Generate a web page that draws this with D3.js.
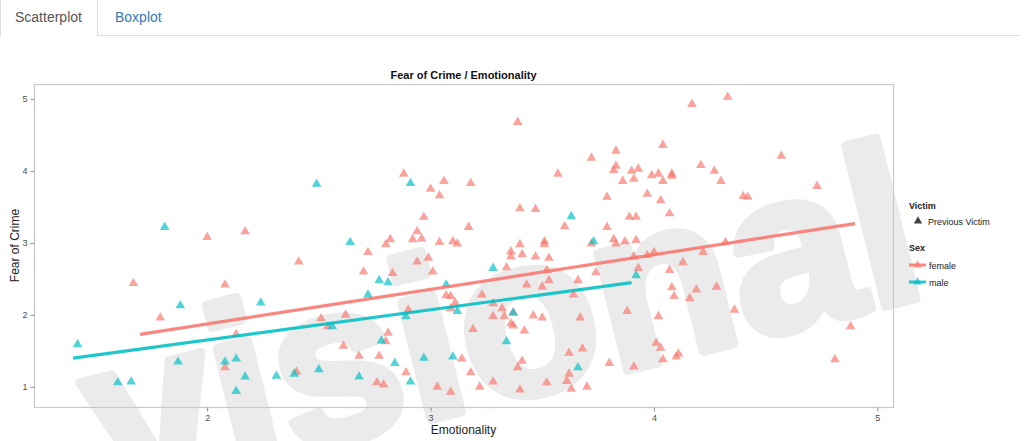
<!DOCTYPE html>
<html>
<head>
<meta charset="utf-8">
<script src="https://cdn.jsdelivr.net/npm/d3@7"></script>
<style>
  html, body { margin: 0; padding: 0; background: #fff; }
  svg { display: block; font-family: "Liberation Sans", Arial, Helvetica, sans-serif; }
</style>
</head>
<body>
<svg id="chart" width="1028" height="441"></svg>
<script>
// Emotionality (x) and Fear of Crime (y) for previous victims, split by sex
const femaleEmotionality = [
  1.67, 1.79, 2.00, 2.08, 2.17, 2.13, 2.08, 2.40, 2.41, 2.51, 2.54,
  3.39, 3.72, 3.57, 2.88, 3.06, 3.18, 3.00, 3.04, 3.79, 3.40, 3.47, 2.97, 3.60, 3.79, 3.17,
  2.94, 2.92, 2.96, 2.82, 2.80, 2.72, 3.04, 3.10, 3.12, 3.40, 3.51, 3.51, 3.72, 3.36, 3.41,
  3.47, 3.36, 3.53, 2.94, 2.99, 3.01, 2.70, 2.83, 3.34, 3.52, 3.74, 3.53, 3.66, 3.43, 3.50,
  3.07, 3.09, 3.23, 3.64, 3.11, 3.28, 3.32, 3.09, 2.90, 2.62, 3.28, 3.33, 3.37, 3.46, 3.50,
  3.67, 3.36, 3.37, 3.19, 3.42, 2.81, 2.80, 2.61, 2.68, 2.77, 3.14, 3.41, 3.62, 3.68, 3.80,
  3.39, 2.89, 3.18, 3.62, 2.76, 2.79, 3.28, 3.52, 3.61, 3.03, 3.22, 3.63, 3.70, 3.09, 3.40,
  4.33, 4.17, 3.83, 4.04, 4.57, 3.83, 3.82, 3.90, 3.93, 3.99, 4.02, 4.08, 4.08, 4.21, 4.27,
  3.86, 3.91, 4.04, 4.30, 4.73, 3.97, 4.03, 4.40, 4.42, 4.07, 3.89, 3.92, 3.82, 3.83, 3.87,
  3.92, 3.91, 3.97, 4.00, 4.22, 4.32, 4.13, 4.07, 3.93, 4.08, 4.09, 4.19, 4.16, 4.28, 4.36,
  3.88, 4.02, 4.88, 4.01, 4.03, 4.11, 4.10, 4.04, 3.91, 4.81
];
const femaleFear = [
  2.44, 1.96, 3.08, 2.42, 3.16, 1.73, 1.27, 1.21, 2.74, 1.95, 1.84,
  4.68, 4.18, 3.96, 3.96, 3.86, 3.83, 3.75, 3.66, 3.64, 3.48, 3.47, 3.36, 3.23, 3.22, 3.22,
  3.16, 3.05, 3.06, 3.05, 2.98, 2.87, 3.01, 3.02, 2.99, 2.98, 3.02, 2.98, 2.99, 2.88, 2.84,
  2.81, 2.81, 2.79, 2.74, 2.79, 2.60, 2.60, 2.58, 2.66, 2.62, 2.59, 2.48, 2.48, 2.42, 2.39,
  2.27, 2.26, 2.28, 2.28, 2.17, 2.16, 2.09, 2.09, 2.07, 2.00, 1.98, 1.98, 2.03, 1.99, 1.96,
  1.96, 1.88, 1.85, 1.80, 1.78, 1.75, 1.63, 1.57, 1.43, 1.43, 1.39, 1.36, 1.47, 1.53, 1.33,
  1.27, 1.20, 1.20, 1.18, 1.06, 1.03, 1.07, 1.06, 1.08, 1.00, 1.00, 0.97, 1.00, 0.93, 0.96,
  5.03, 4.93, 4.28, 4.36, 4.21, 4.07, 4.01, 4.00, 4.03, 3.94, 3.96, 3.96, 3.93, 4.08, 4.00,
  3.86, 3.89, 3.86, 3.86, 3.79, 3.68, 3.59, 3.65, 3.64, 3.41, 3.36, 3.36, 3.05, 2.99, 3.02,
  3.04, 2.81, 2.83, 2.87, 2.87, 3.01, 2.73, 2.62, 2.65, 2.38, 2.26, 2.35, 2.23, 2.39, 2.07,
  2.05, 1.98, 1.84, 1.61, 1.54, 1.46, 1.42, 1.38, 1.28, 1.38
];
const maleEmotionality = [
  1.42, 1.60, 1.66, 1.81, 1.88, 1.87, 2.08, 2.13, 2.13, 2.17, 2.24, 2.31, 2.39,
  2.49, 2.50, 2.56, 2.91, 3.63, 2.64, 3.73, 3.28, 2.77, 2.81, 2.72, 3.07, 3.12,
  2.89, 3.37, 2.78, 3.34, 2.97, 3.10, 2.84, 3.66, 2.68, 2.91, 3.92
];
const maleFear = [
  1.59, 1.06, 1.07, 3.22, 2.13, 1.35, 1.35, 1.39, 0.94, 1.14, 2.17, 1.15, 1.18,
  3.82, 1.24, 1.84, 3.83, 3.37, 3.01, 3.02, 2.65, 2.48, 2.45, 2.28, 2.42, 2.05,
  1.98, 2.03, 1.64, 1.63, 1.40, 1.42, 1.33, 1.27, 1.14, 1.07, 2.55
];

// Linear fit end points per group
const femaleFitX = [1.70, 4.90];
const femaleFitY = [1.73, 3.27];
const maleFitX = [1.40, 3.90];
const maleFitY = [1.40, 2.45];

const xTicks = [2, 3, 4, 5];
const yTicks = [1, 2, 3, 4, 5];
const tabLabels = ["Scatterplot", "Boxplot"];
const sexLabels = ["female", "male"];
const sexColors = ["#f8766d", "#00bfc4"];

const svg = d3.select("#chart");

// Background watermark lettering
svg.append("text")
  .attr("transform", "translate(108,500) rotate(-14)")
  .attr("font-size", 228)
  .attr("font-weight", "bold")
  .attr("fill", "#ebebeb")
  .attr("stroke", "#ebebeb")
  .attr("stroke-width", 9)
  .attr("stroke-linejoin", "round")
  .text("visional");

// Tab strip
const tabs = svg.append("g");
tabs.append("line")
  .attr("x1", 97).attr("x2", 1020).attr("y1", 35.5).attr("y2", 35.5)
  .attr("stroke", "#dddddd");
tabs.append("path")
  .attr("d", "M0.5,36 L0.5,-2 L97.5,-2 L97.5,36")
  .attr("fill", "#fff").attr("stroke", "#dddddd");
tabs.selectAll("text.tab").data(tabLabels).join("text")
  .attr("class", "tab")
  .attr("x", (d, i) => i === 0 ? 15 : 115)
  .attr("y", 22)
  .attr("font-size", 14)
  .attr("fill", (d, i) => i === 0 ? "#555555" : "#337ab7")
  .text(d => d);

// Plot panel
const panel = { left: 34, right: 893, top: 84, bottom: 407 };
const x = d3.scaleLinear().domain([1.225, 5.07]).range([panel.left, panel.right]);
const y = d3.scaleLinear().domain([0.72, 5.21]).range([panel.bottom, panel.top]);

svg.append("rect")
  .attr("x", panel.left + 0.5).attr("y", panel.top + 0.5)
  .attr("width", panel.right - panel.left).attr("height", panel.bottom - panel.top)
  .attr("fill", "none").attr("stroke", "#c8c8c8").attr("stroke-width", 1.2);

const xAxis = svg.append("g")
  .attr("transform", `translate(0,${panel.bottom + 0.5})`)
  .call(d3.axisBottom(x).tickValues(xTicks).tickSize(4).tickPadding(3).tickFormat(d3.format("d")));
const yAxis = svg.append("g")
  .attr("transform", `translate(${panel.left + 0.5},0)`)
  .call(d3.axisLeft(y).tickValues(yTicks).tickSize(4).tickPadding(3).tickFormat(d3.format("d")));
[xAxis, yAxis].forEach(g => {
  g.select(".domain").remove();
  g.selectAll(".tick line").attr("stroke", "#8c8c8c");
  g.selectAll(".tick text").attr("fill", "#4d4d4d").attr("font-size", 9)
    .attr("font-family", "'Liberation Sans', Arial, sans-serif");
});

// Titles
svg.append("text")
  .attr("x", (panel.left + panel.right) / 2).attr("y", 79)
  .attr("text-anchor", "middle").attr("font-size", 11).attr("font-weight", "bold")
  .attr("fill", "#111").text("Fear of Crime / Emotionality");
svg.append("text")
  .attr("x", (panel.left + panel.right) / 2).attr("y", 434)
  .attr("text-anchor", "middle").attr("font-size", 12)
  .attr("fill", "#222").text("Emotionality");
svg.append("text")
  .attr("transform", `translate(19,${(panel.top + panel.bottom) / 2}) rotate(-90)`)
  .attr("text-anchor", "middle").attr("font-size", 12)
  .attr("fill", "#222").text("Fear of Crime");

// Points
const tri = d3.symbol().type(d3.symbolTriangle).size(40);
const groups = [
  { xs: femaleEmotionality, ys: femaleFear, color: sexColors[0] },
  { xs: maleEmotionality, ys: maleFear, color: sexColors[1] }
];
groups.forEach(g => {
  svg.append("g").selectAll("path")
    .data(g.xs.map((v, i) => [v, g.ys[i]]))
    .join("path")
    .attr("d", tri)
    .attr("transform", d => `translate(${x(d[0])},${y(d[1])})`)
    .attr("fill", g.color)
    .attr("fill-opacity", 0.68);
});

// Fit lines
const line = d3.line().x(d => x(d[0])).y(d => y(d[1]));
[[femaleFitX, femaleFitY, sexColors[0]], [maleFitX, maleFitY, sexColors[1]]].forEach(([fx, fy, c]) => {
  svg.append("path")
    .datum(fx.map((v, i) => [v, fy[i]]))
    .attr("d", line)
    .attr("fill", "none")
    .attr("stroke", c)
    .attr("stroke-opacity", 0.88)
    .attr("stroke-width", 3.2);
});

// Legend
const legend = svg.append("g").attr("transform", "translate(909,0)");
legend.append("text").attr("x", 0).attr("y", 209)
  .attr("font-size", 9).attr("font-weight", "bold").attr("fill", "#222").text("Victim");
legend.append("path").attr("d", d3.symbol().type(d3.symbolTriangle).size(30))
  .attr("transform", "translate(9,221)").attr("fill", "#444");
legend.append("text").attr("x", 19).attr("y", 225)
  .attr("font-size", 9).attr("fill", "#222").text("Previous Victim");
legend.append("text").attr("x", 0).attr("y", 251)
  .attr("font-size", 9).attr("font-weight", "bold").attr("fill", "#222").text("Sex");
sexLabels.forEach((s, i) => {
  const ky = 265 + i * 17;
  legend.append("line").attr("x1", 0).attr("x2", 17).attr("y1", ky).attr("y2", ky)
    .attr("stroke", sexColors[i]).attr("stroke-width", 3).attr("stroke-opacity", 0.85);
  legend.append("path").attr("d", d3.symbol().type(d3.symbolTriangle).size(30))
    .attr("transform", `translate(8.5,${ky})`).attr("fill", sexColors[i]).attr("fill-opacity", 0.7);
  legend.append("text").attr("x", 20).attr("y", ky + 3.5)
    .attr("font-size", 9).attr("fill", "#222").text(s);
});
</script>
</body>
</html>
